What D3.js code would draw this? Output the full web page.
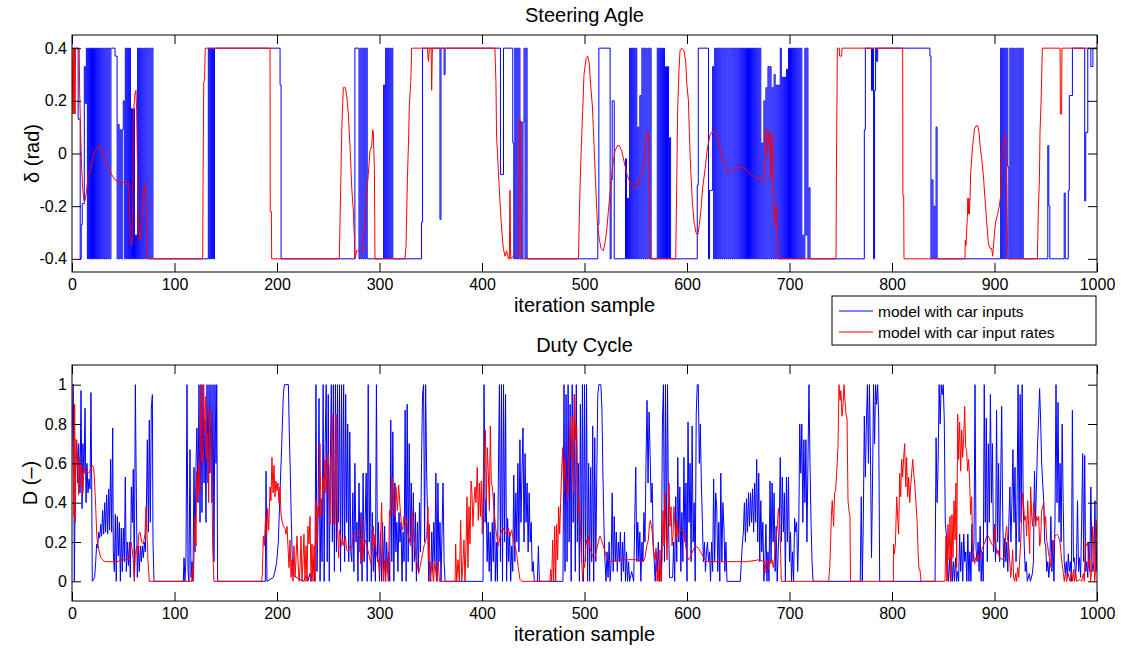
<!DOCTYPE html>
<html>
<head>
<meta charset="utf-8">
<script src="https://cdn.jsdelivr.net/npm/d3@7"></script>
<style>
  body { margin: 0; background: #fff; }
  text { font-family: "Liberation Sans", Arial, Helvetica, sans-serif; fill: #000; }
</style>
</head>
<body>
<script>
const xTicks = [0, 100, 200, 300, 400, 500, 600, 700, 800, 900, 1000];
const steerTicks = [-0.4, -0.2, 0, 0.2, 0.4];
const dutyTicks = [0, 0.2, 0.4, 0.6, 0.8, 1];
const legendLabels = ["model with car inputs", "model with car input rates"];

// all series: [sample, value, sample, value, ...]
// steering, car inputs (held between samples)
const steerInputs = [0,.4,6,.13,8,-.4,9,-.27,10,-.19,12,.33,13,.19,
14,.4,15,-.4,16,.4,17,-.4,18,.4,19,-.4,20,.4,21,-.4,22,.4,23,-.4,24,.4,25,-.4,26,.4,27,-.4,28,.4,29,-.4,30,.4,31,-.4,32,.4,33,-.4,34,.4,35,-.4,36,.4,37,-.4,38,.4,
42,.37,44,-.4,45,.11,46,-.4,47,.09,48,-.4,49,.09,50,.2,51,-.4,52,.4,53,-.4,54,.4,55,-.4,56,.4,57,-.4,58,.17,59,-.4,60,.17,61,-.4,62,-.31,63,-.4,
64,.4,65,-.4,66,.4,67,-.4,68,.4,69,-.4,70,.4,71,-.4,72,.4,73,-.4,74,.4,75,-.4,76,.4,77,-.4,78,.4,79,-.4,
133,.4,134,-.4,135,.4,136,-.4,137,.4,138,-.4,139,.4,203,.26,204,-.4,
276,.4,280,-.4,281,.4,282,-.4,283,.4,284,-.4,285,.4,286,-.4,287,.4,288,-.4,
304,.26,305,-.4,306,.4,307,-.4,308,.4,309,-.4,310,.4,311,-.4,312,.4,313,-.4,
341,-.26,342,.4,359,-.25,360,.4,363,.3,364,.4,418,-.08,421,.4,
430,.04,431,-.4,432,.4,433,-.4,434,.4,435,-.4,436,.4,437,-.4,438,.12,439,-.4,440,.12,441,.4,442,-.4,443,.4,444,-.4,
513,-.27,514,.4,525,-.4,526,-.1,527,.2,529,-.4,540,-.02,541,-.4,542,-.17,543,-.4,
544,.4,545,-.4,546,.4,547,-.4,548,.4,549,-.4,550,.4,551,-.4,552,.1,553,-.4,554,.22,555,-.4,556,.4,557,-.4,558,.4,559,-.4,560,.4,561,-.4,562,.4,563,-.4,564,.4,565,-.4,
571,.4,572,-.4,573,.4,574,-.4,575,.4,576,-.4,577,.4,578,-.4,579,.33,580,-.4,581,.33,582,-.4,583,.06,584,-.4,
610,-.12,611,.4,621,-.4,622,-.14,625,.33,
626,-.4,627,.4,628,-.4,629,.4,630,-.4,631,.4,632,-.4,633,.4,634,-.4,635,.4,636,-.4,637,.4,638,-.4,639,.4,640,-.4,641,.4,642,-.4,643,.4,644,-.4,645,.4,646,-.4,647,.4,648,-.4,649,.4,650,-.4,
651,.4,652,-.4,653,.4,654,-.4,655,.4,656,-.4,657,.4,658,-.4,659,.4,660,-.4,661,.4,662,-.4,663,.4,664,-.4,665,.4,666,-.4,667,.4,668,-.4,669,.4,670,-.4,671,.4,672,-.4,
673,.04,674,-.4,675,.2,676,-.4,677,.25,678,-.4,679,.33,680,-.4,681,.33,682,-.4,683,.25,684,-.4,685,.3,686,-.4,687,.26,688,-.4,689,.26,690,-.4,691,.4,692,-.4,693,.29,694,-.4,695,.29,696,-.4,697,.32,698,-.4,
699,.4,700,-.4,701,.4,702,-.4,703,.4,704,-.4,705,.4,706,-.4,707,.4,708,-.4,709,.4,710,-.4,711,.4,712,-.4,713,-.31,714,-.4,715,.4,716,-.31,717,.4,718,-.4,719,-.13,720,-.4,
773,.09,774,.4,780,.24,781,.4,782,-.4,783,.24,784,.4,785,.35,786,.4,
837,.37,838,-.4,839,-.1,840,-.4,841,-.2,842,-.4,843,.1,844,-.4,
906,.4,907,-.4,908,.4,909,-.4,910,.4,911,-.4,912,.4,913,-.05,914,-.4,915,.4,916,-.4,917,.4,918,-.4,919,.4,920,-.4,921,.4,922,-.4,923,.4,924,-.4,925,.4,926,-.4,927,.4,928,-.4,
952,.03,953,-.2,954,-.4,968,-.15,969,-.4,972,-.14,973,.22,976,.4,988,-.18,989,.08,991,.4,994,.33,996,.4,1000,.4];

// steering, car input rates
const steerRates = [0,.4,1,.15,1.5,.4,2,.15,2.5,.4,3,.15,3.5,.4,7,.4,7.5,.23,8.5,.07,9.4,-.05,10.4,-.13,11.7,-.18,12.7,-.18,14.3,-.14,15.9,-.08,17.6,-.07,19.2,-.04,20.8,-.01,22.4,.01,24.7,.02,26.7,.03,28.9,.01,30.6,.01,32.2,-.03,35.5,-.05,38.7,-.08,42,-.1,46.8,-.11,51.7,-.11,53.4,-.12,55,-.11,56,-.16,56.6,-.31,58.2,-.35,59.2,-.31,59.8,.15,61.5,.23,62.4,.24,63.1,.16,64.7,-.27,66.3,-.33,68,-.25,69.6,-.17,70.6,-.11,71.5,-.13,72.8,-.2,73.5,-.4,
127.5,-.4,127.8,-.14,128.5,.27,129.3,.28,130,.4,193.2,.4,193.4,-.22,194.5,-.22,194.8,-.4,
260.8,-.4,261.5,-.26,262.4,-.07,263.4,.12,264.7,.25,265.7,.25,266.7,.25,268,.22,269.6,.15,271.2,.03,272.9,-.13,274.5,-.22,275.4,-.31,276.1,-.4,277.7,-.37,283.6,-.37,284.2,-.31,285.9,-.26,287.5,-.15,289.1,-.08,290.7,.01,292.4,.03,293.3,.09,294,.08,295,-.06,295.6,-.4,
324.9,-.4,325.9,-.35,327.2,-.1,328.5,.07,329.1,.18,330.5,.27,331.4,.4,346.7,.4,347.7,.35,348.6,.4,350.3,.4,350.9,.24,351.6,.4,
412.6,.4,413.6,.27,414.2,.07,415.9,-.06,417.5,-.18,419.2,-.29,420.8,-.36,422.4,-.39,424.1,-.37,425.7,-.4,426.7,-.4,427.3,-.14,428,-.4,430.6,-.39,435.8,-.38,436.5,.13,437.2,.13,437.8,-.14,438.8,-.4,
494.1,-.4,495.1,-.21,496.4,-.03,498.2,.16,499.5,.3,501.5,.36,503.1,.37,504.7,.34,506,.26,507.7,.18,509.3,.03,510.9,-.12,512.5,-.26,514.2,-.32,516.1,-.36,518.4,-.37,520,-.34,521.7,-.29,523.3,-.22,524.9,-.15,526.5,-.08,528.1,-.03,529.8,.01,532.1,.03,534,.03,536.3,.01,538.6,-.03,541.5,-.08,544.4,-.11,547.6,-.13,550.2,-.13,552.5,-.11,555.1,-.08,557.4,-.06,559,.01,560.6,.08,562.3,.08,563.3,-.06,563.9,-.4,
589,-.4,590,-.11,590.9,.17,592.2,.32,593.2,.39,594.8,.4,597.1,.39,598.7,.35,599.7,.27,601.4,.2,602.3,.08,603.6,-.06,605.2,-.18,606.8,-.26,608.8,-.3,610.4,-.31,612.1,-.27,613.7,-.21,615.3,-.13,617.6,-.06,619.9,.02,622.4,.07,625,.085,627.3,.08,629.6,.06,632.2,.02,634.8,-.02,637.1,-.05,640.3,-.07,643.6,-.067,646.8,-.057,651.7,-.05,656.6,-.057,659.8,-.07,663.1,-.083,666.3,-.089,669.6,-.098,672.8,-.1,675.1,-.108,676.4,.09,677.7,.09,678.7,-.006,679.7,.076,681,.083,682,-.095,683,.07,684.3,-.095,685.3,-.28,686.6,-.2,687.9,-.21,688.9,-.4,
745.4,-.4,745.8,-.06,746.7,.4,748.6,.4,748.8,.37,750.9,.37,751.2,.4,810.4,.4,810.6,-.16,811.4,-.16,811.7,-.4,
871.2,-.4,871.5,-.33,872.2,-.35,873.5,-.24,874,-.17,874.5,-.23,875,-.17,875.5,-.23,876.1,-.17,876.7,-.08,878,-.006,879.4,.057,880.7,.095,882,.105,883.6,.105,884.9,.08,885.9,.03,887.5,-.02,889.1,-.08,890.7,-.17,892.4,-.26,894,-.34,895.6,-.36,897.2,-.36,898.2,-.39,898.9,-.36,899.8,-.31,901.1,-.26,902.8,-.235,904.7,-.2,906,-.16,907.3,-.006,908.6,.03,909.9,.072,910.9,.044,911.9,-.12,912.9,-.4,
941.8,-.4,942.8,-.21,943.8,-.1,944.4,.08,945.4,.19,946.7,.4,964,.4,964.3,.15,965.5,.15,965.8,.4,1000,.4];

// duty cycle, car inputs
const dutyInputs = [0,1,1.3,1,2.3,0,3.3,.55,4.6,.72,5.5,.5,6.5,.7,7.8,.45,8.8,.97,9.8,.37,10.7,.7,11.7,.55,12.7,.88,13.7,.4,14.6,.6,15.6,.45,16.6,.52,17.6,.47,18.5,.96,19.2,.5,19.8,0,22.1,.02,23.1,.1,24.1,.19,25,.17,26,.25,27,.22,28,.29,28.9,.23,29.9,.36,30.9,.24,31.9,.4,32.8,.25,33.8,.44,34.8,.24,35.8,.47,36.7,.26,37.7,.62,38.7,.25,39.7,.78,40.3,.15,41.3,.05,42.3,.34,43.2,0,44.2,.33,45.2,.13,46.2,.3,47.2,0,48.1,.27,49.1,.05,50.1,.27,51.1,.1,52,.53,53,.05,54,.2,55,.08,56,.2,56.9,.02,57.9,.48,58.9,.3,59.8,.57,60.8,.02,61.8,1,62.8,.43,63.7,.02,64.7,.18,65.7,.05,66.7,.18,67.6,.1,68.6,.18,69.6,.12,70.6,.2,71.5,.15,72.5,.35,73.5,.72,74.5,.25,75.4,.82,76.4,.3,77.4,.88,78.4,.95,79,.2,80,0,
108.6,0,109.3,.12,110.2,0,111.2,.12,112.2,1,113.2,.05,114.1,0,115.1,.67,116.1,.02,117.1,.1,118,0,119,.58,120,.15,121,.6,121.9,.78,122.9,.4,123.9,1,124.9,.3,125.9,1,126.8,.35,127.8,1,128.8,.5,129.8,.82,130.7,.3,131.7,1,132.7,.5,133.7,1,134.6,.55,135.6,1,136.6,.4,137.6,1,138.5,.1,139.5,1,140.5,.6,141.2,1,142.1,0,
187.3,0,188.6,0,189.3,.56,190.2,0,196.4,.02,198,.05,199.7,.1,201.3,.2,202.9,.45,204.5,.68,206.2,.95,207.2,1,211.1,1,212,.75,213,.55,214,.3,215,.1,216,.03,222.4,.01,225.7,0,229,.03,230,0,232,.04,233,0,236,.1,237,0,
238,1,239,.05,240,.3,241,.93,242,0,243,.42,244,.1,245,1,246,0,247,.7,248,1,249,.1,250,.95,251,0,252,.6,253,1,254,.2,255,1,256,.05,257,1,258,.15,259,1,260,.3,261,1,262,.05,263,1,264,.2,265,1,266,.1,267,.95,268,.3,269,.8,270,.1,271,.76,272,.15,
273,.1,274,.45,275,.05,276,.6,277,.2,278,.3,279,0,280,.5,281,.15,282,.35,283,0,284,.55,285,.1,286,.3,287,.55,288,0,289,1,290,.2,291,.6,292,0,293,.35,294,.05,295,.2,296,0,297,1,298,.1,299,.3,300,0,
301,.25,302,0,303,.3,304,.05,305,.28,306,0,307,.2,308,.05,309,.15,310,0,311,.82,312,.1,313,.76,314,0,315,.5,316,.15,317,.3,318,.05,319,.35,320,.2,321,.3,322,0,323,.25,324,.1,325,.87,326,0,327,.9,328,.1,329,.7,330,.2,331,.5,332,.05,333,.45,334,.1,335,.35,336,0,337,.3,338,.05,339,.4,340,.15,
341,.6,342,.95,343,1,344,.2,345,1,346,.55,347,.3,348,0,349,.1,350,0,351,.25,352,.05,353,.3,354,.1,355,.55,356,0,357,.5,358,.1,359,.3,360,0,361,.25,362,.5,363,.1,364,0,
401,0,402,1,403,.3,404,.42,405,.1,406,.3,407,.05,408,.25,409,0,410,.3,411,.1,412,.45,413,0,414,.2,415,0,416,.55,417,1,418,.1,419,1,420,0,421,1,422,.2,423,.95,424,0,425,.32,426,.1,427,.25,428,0,429,.18,430,.05,431,.54,432,.1,433,.45,434,.2,435,.6,436,.15,437,.72,438,.3,439,.55,440,.78,441,.2,442,.65,443,.3,444,.5,445,.15,446,.45,447,.2,448,.3,449,.05,450,.1,451,0,454,0,455,.18,456,0,
479,0,480,1,481,.05,482,.95,483,.1,484,1,485,.2,486,.9,487,0,488,1,489,.3,490,.95,491,.05,492,1,493,.2,494,.6,495,0,496,.9,497,.1,498,1,499,0,500,1,501,.1,502,1,503,0,504,.6,505,0,506,.58,507,.1,508,.79,509,0,510,.73,511,.1,512,.55,513,.95,514,1,516,1,517,.87,518,.54,519,.28,520,.1,
521,0,522,.15,523,.02,524,.2,525,0,526,.1,527,.45,528,.05,529,.33,530,.1,531,.25,532,.05,533,.2,534,.1,535,.25,536,0,537,.2,538,.05,539,.25,540,0,541,.15,542,0,543,.1,544,0,546,.05,548,0,549,.3,550,.58,551,.1,552,.3,553,.1,554,.25,555,0,556,.2,557,.1,558,.35,559,.2,560,.6,
561,.92,562,.5,563,.86,564,.65,565,.4,566,.5,567,.2,568,.1,569,0,570,.15,571,.05,572,.2,573,0,574,.1,575,0,576,.8,577,1,578,.1,579,1,580,.2,581,1,582,.3,583,.02,586,.02,587,.2,588,0,589,.43,590,.1,591,.63,592,.2,593,.48,594,.05,595,.35,596,.1,597,.63,598,.2,599,.5,600,0,
601,.81,602,.3,603,.6,604,.1,605,.79,606,.2,607,.4,608,0,609,.85,610,1,611,1,612,.6,613,.8,614,.5,615,.3,616,.1,617,.2,618,.05,619,.15,620,.2,621,.1,622,.15,623,0,624,.2,625,.05,626,.52,627,.1,628,.45,629,.38,630,.05,631,.3,632,0,633,.55,634,.1,635,.4,636,.28,637,.05,638,.2,639,0,
652,0,653,.1,654,.19,655,.25,656,.4,657,.2,658,.42,659,.25,660,.45,661,.28,662,.45,663,.3,664,.47,665,.25,666,.5,667,.3,668,.62,669,.2,670,.55,671,.1,672,.41,673,.15,674,.3,675,0,676,.1,677,.29,678,0,679,.15,680,0,
681,.51,682,.1,683,.5,684,.2,685,.45,686,.05,687,.28,688,0,689,.15,690,.3,691,.63,692,.2,693,.53,694,.25,695,.45,696,0,697,.53,698,.2,699,.53,700,.1,701,.25,702,0,703,.15,704,0,705,.32,706,.25,707,.3,708,.05,709,.25,710,.8,711,.55,712,.8,713,.3,714,.72,715,.4,716,.72,717,.2,718,.6,719,1,720,.6,721,.3,722,.1,723,0,
769,0,770,.43,771,0,772,.3,773,.84,774,.53,775,.8,776,1,777,.6,778,1,779,.64,780,.12,781,.5,782,1,783,.7,784,1,785,.9,786,1,787,.83,788,0,
842,0,843,.73,844,.4,845,.6,846,1,847,.8,848,1,849,.95,850,1,851,.82,852,.29,853,.24,854,.05,855,0,856,.12,857,0,858,.15,859,0,860,.1,861,0,862,.12,863,0,864,.05,865,0,866,.24,867,.05,868,.2,869,0,870,.24,871,.1,872,.15,873,0,874,.24,875,0,876,.15,877,0,878,.29,879,.1,880,.2,
881,1,882,.16,883,.1,884,.2,885,.05,886,.28,887,0,888,.15,889,0,890,1,891,.3,892,.83,893,.1,894,.7,895,.3,896,.95,897,.4,898,.7,899,.15,900,.29,901,.1,902,.87,903,.2,904,.6,905,.1,906,.5,907,.89,908,.34,909,.07,910,.22,911,.1,912,.2,913,.05,914,.3,915,.48,916,.2,917,.4,918,.67,919,.3,920,.58,
921,.1,922,.4,923,1,924,.2,925,.95,926,.3,927,1,928,.41,929,.18,930,.05,931,.1,932,0,934,.04,935,0,937,.04,938,.1,939,.56,940,.3,941,.5,942,.7,943,.82,944,.98,945,.82,946,.6,947,.5,948,.41,949,.2,950,.18,951,.05,952,.1,953,.02,954,.1,955,.33,956,.05,957,.21,958,0,959,.3,960,1,
961,.4,962,.91,963,.3,964,.6,965,.2,966,.8,967,.4,968,.1,969,.04,970,.1,971,.02,972,.14,973,.05,974,.1,975,0,976,.87,977,.1,978,.12,979,.02,980,.1,981,.41,982,.05,983,.12,984,.02,985,.3,986,.65,987,.1,988,.64,989,.05,990,.1,991,.02,992,.2,993,.05,994,.48,995,.1,996,.05,997,.1,998,.41,999,.05,1000,.2];

// duty cycle, car input rates
const dutyRates = [0,1,1.95,.33,2.6,.9,3.3,.3,3.9,.72,4.6,.7,5.5,.61,6.5,.44,7.2,.63,8.1,.48,8.8,.6,9.8,.56,10.7,.45,11.7,.58,12.7,.55,14.3,.56,15.9,.55,17.6,.56,18.9,.58,19.8,.59,21.1,.58,22.1,.5,23.1,.38,24.1,.24,25,.19,26.3,.16,28,.12,29.9,.11,32.2,.1,37.1,.1,43.6,.1,50.1,.11,55,.11,55.9,.12,56.6,.18,57.6,.2,58.5,.17,59.8,.11,60.8,0,61.8,.14,63.1,.18,64.1,.12,65,.24,66.3,.25,68,.2,69.6,.19,71.2,.24,72.2,.38,73.2,.24,74.1,.11,75.4,0,
116.7,0,117.4,.07,118.4,0,120,.33,121,.18,121.6,.56,122.6,.41,123.6,.6,124.6,.45,125.5,1,126.5,.62,127.5,.6,128.5,1,129.4,.75,130.4,.94,131.4,.62,132.4,.75,133.3,.4,134.3,.88,135.3,.82,136.3,.72,137.2,.18,138.5,0,
185,0,185.7,.04,186.7,.23,187.6,.18,188.9,.33,189.9,.23,190.9,.37,191.9,.26,193.2,.48,194.1,.41,195.1,.63,196.1,.45,197.1,.59,198,.43,199,.51,200,.46,201,.5,201.9,.4,202.9,.48,203.9,.34,204.9,.31,206.2,.28,207.8,.27,208.8,.24,209.8,.28,210.7,.18,211.7,.07,212.7,.21,213.7,.02,214.6,.11,215.6,0,216.6,.18,217.6,.02,218.5,.11,219.5,.23,220.5,.11,221.5,0,222.4,.06,223.4,.23,224.4,0,225.4,.11,226.3,.24,227.3,0,228.3,.18,229.3,0,230.2,.28,231.2,.19,232.2,.33,233.2,0,234.1,.19,235.1,0,236.1,.18,237.1,0,238,.41,239,.18,240,.38,240.9,.33,241.9,.7,242.9,.33,243.9,.38,244.9,.53,245.9,.46,246.8,.62,247.8,.45,248.8,.53,249.8,.65,250.7,.58,
251.7,.29,252.7,.58,253.7,.85,254.3,.75,255.3,.29,256.6,.29,257.6,.85,258.2,.62,259.2,.25,260.2,.12,260.8,.26,261.8,.23,263.1,.18,264.1,.21,265.4,.18,266.7,.23,268,.16,269.6,.15,271.2,.18,272.9,.17,274.5,.23,276.1,.25,277.7,.25,279.4,.24,281,.22,281.6,.09,282.6,.33,283.6,.11,284.9,.19,286.2,.21,287.5,.18,289.1,.15,290.7,.11,291.7,.09,292.7,.16,294,.28,294.6,.18,295.6,.24,296.6,.16,297.9,.11,298.9,.11,299.9,.04,300.5,.12,
302.1,.4,303.1,.11,303.7,0,304.7,.11,305.7,0,307,.12,308.6,0,309.7,.36,310.9,.33,312.2,.53,313.5,.41,314.8,.33,316.1,.48,317.4,.36,318.7,.49,320,.38,321.3,.29,322.6,.26,323.9,.33,325.2,.29,326.5,.31,327.8,.24,329.1,.21,330.4,.18,331.7,.36,333,.28,334.3,.18,335.6,.12,336.9,.09,338.2,.04,339.5,.07,340.8,.11,342.1,.14,343.4,.18,344.7,.2,346,.23,347.3,.38,348,.11,348.6,.29,349.3,0,351.2,.1,352.5,0,354.1,.1,355.8,0,357.4,.1,358.4,0,
373.7,0,374.3,.19,375.3,0,376.6,.11,377.9,0,379.2,.31,380.2,0,381.2,.07,382.4,.21,383.4,0,384.4,.18,385.4,.43,386.3,.07,387.3,.38,388.3,.19,389.3,.51,390.2,.45,391.2,.28,392.2,.41,393.2,.48,394.1,.4,395.4,.58,396.4,.31,397.4,.5,398.4,.33,399.3,.51,400.3,.24,401.3,.53,402.3,.62,403.3,.77,404.2,.41,405.2,.68,406.2,.55,407.2,.36,408.1,.79,409.1,.5,410.1,.48,411.1,.41,412.1,.34,413.1,.28,414.3,.23,416,.18,417.6,.23,419.2,.26,420.8,.27,422.4,.25,424,.24,425.7,.27,427.3,.23,428.9,.26,430.6,.21,432.2,.18,433.8,.14,435.4,.07,437,.01,438.7,0,
466.3,0,467,.06,468,0,468.9,.21,469.9,0,470.9,.28,471.9,0,472.8,.29,473.8,.11,474.8,.38,475.8,.24,476.7,.4,477.7,.56,478.7,.68,479.7,.45,480.7,.62,481.6,.55,482.6,.51,483.6,.41,484.6,.56,485.5,.72,486.5,.84,487.5,.62,488.5,.83,489.4,.45,490.4,.95,491.4,.72,492.4,.79,493.3,.5,494.3,.34,495.3,.4,496.3,.23,497.2,.11,498.2,0,499.2,.09,500.2,.07,501.2,.18,502.1,.21,503.1,.18,504.1,.23,505.4,.17,507,.14,508.6,.12,510.2,.12,511.9,.16,513.5,.2,515.1,.23,516.7,.21,518.4,.18,520,.15,521.6,.12,523.3,.11,524.9,.1,534.6,.11,541.1,.11,544.4,.11,550.9,.11,557.4,.1,559,.12,560.7,.18,562.3,.21,563.3,.29,564.3,.31,565.3,.28,566.3,.24,567.2,.16,568.9,.11,569.8,.17,570.8,0,571.8,.06,572.7,0,573.7,.16,574.7,0,575.7,.11,576.6,.36,577.6,.18,578.6,.45,579.6,.24,580.5,.11,581.5,.33,582.5,.5,583.4,.28,584.4,.38,585.4,.18,586.4,.24,587.3,.38,588.3,.28,589.3,.21,590.3,.31,591.3,.23,592.2,.26,594.8,.26,596.4,.26,598,.21,599.7,.14,601.3,.11,602.9,.12,606.2,.16,607.8,.18,611,.17,614.3,.14,617.6,.11,619.2,.1,638.7,.1,658.2,.1,671.2,.11,674.5,.1,676.1,.04,677.1,.11,678.4,.1,679.4,.06,680.4,.11,681.7,.09,683,.11,684.2,.07,685.2,.11,686.8,.21,688.1,.28,689.1,.37,690,.33,691,.21,692,0,
738.2,0,739.2,.07,739.8,.14,740.8,.33,741.7,.41,743,.28,744,.45,745,.46,746.3,.58,747.3,.68,748.3,1,749.3,.92,750.2,.97,751.2,.84,752.2,.89,753.2,1,754.1,.92,755.1,.85,756.1,.83,757.1,.41,758,.36,759,.33,759.5,0,
801.3,0,801.5,.19,802.3,.14,803.3,.19,804.6,.43,805.5,.33,806.5,.24,807.5,.55,808.5,.43,809.4,.62,810.4,.53,811.4,.63,812.4,.7,813.4,.48,814.3,.63,815.3,.43,816.3,.53,817.3,.4,818.2,.48,819.2,.55,820.2,.62,821.2,.55,822.1,.5,823.4,.4,824.4,.31,825.4,.16,826.3,.06,827.3,.06,828.3,0,829,0,
851.7,0,852.7,.23,853.6,0,854.6,.29,855.6,.11,856.6,.33,857.6,0,858.5,.34,859.5,.12,860.5,.41,861.5,.21,862.4,.5,863.1,.07,864.1,.85,865,.62,866,.81,867,.56,868,.77,868.9,.63,869.9,.72,870.9,.89,871.9,.68,872.8,.67,873.8,.56,874.8,.62,875.8,.5,876.7,.34,877.7,.43,878.7,.18,879.7,.14,880.7,.09,881.6,.12,882.6,.11,883.6,.14,884.6,.11,885.9,.12,887.5,.16,889.1,.18,890.7,.2,892.4,.23,894,.23,895.6,.21,897.2,.19,898.9,.18,900.5,.28,901.5,.18,902.4,.14,903.4,.16,904.4,.13,905.4,.12,907,.11,908.6,.12,909.9,.13,910.9,.24,911.9,.28,912.8,.21,913.8,.19,914.8,.11,915.8,.02,916.7,.07,917.7,.16,918.7,.02,919.7,0,920.7,.04,921.6,0,922.6,.07,923.6,.02,924.6,.11,925.5,.19,926.5,.34,927.5,.45,928.5,.38,929.4,.31,930.4,.33,931.4,.23,932.4,.41,933.3,.28,934.3,.14,935.3,.48,936.3,.33,937.2,.28,938.2,.4,939.2,.34,940.2,.28,941.1,.33,942.1,.31,943.1,.33,944.1,.18,945,.21,946,.36,947,.38,948,.4,948.9,.28,949.9,.33,950.9,.21,951.9,.18,952.8,.14,954.1,.11,955.1,.07,956.1,.14,957.4,.18,959,.23,960.7,.24,962.3,.23,963.9,.2,965.5,.11,967.2,.04,968.1,0,969.1,.04,970.4,0,972,.04,973.7,0,975.3,.05,976.3,0,977.2,.06,978.2,0,979.2,.04,980.2,0,983.4,.01,985,0,986.7,.04,987.6,0,988.6,.2,989.9,.18,990.9,.2,991.8,.07,992.8,.11,993.8,0,994.8,.06,995.8,.28,996.7,.18,997.7,0,998.4,.04,999,.31,1000,.2];

function toPoints(flat) {
    const pts = [];
    for (let i = 0; i < flat.length; i += 2) pts.push([flat[i], flat[i + 1]]);
    return pts;
}

const width = 1121, height = 651;
const left = 72, right = 1097;
const font = '"Liberation Sans", Arial, Helvetica, sans-serif';

const svg = d3.select("body").append("svg")
    .attr("width", width)
    .attr("height", height);

const x = d3.scaleLinear().domain([0, 1000]).range([left, right]);

function panel(p) {
    const y = d3.scaleLinear().domain(p.domain).range([p.bottom, p.top]);
    const g = svg.append("g");

    svg.append("clipPath").attr("id", "clip-" + p.id)
        .append("rect")
        .attr("x", left).attr("y", p.top)
        .attr("width", right - left).attr("height", p.bottom - p.top);

    const plot = g.append("g").attr("clip-path", `url(#clip-${p.id})`);

    const lineIn = d3.line().x(d => x(d[0])).y(d => y(d[1])).curve(p.inputCurve);
    const lineRate = d3.line().x(d => x(d[0])).y(d => y(d[1]));

    plot.append("path")
        .datum(toPoints(p.inputs))
        .attr("d", lineIn)
        .attr("fill", "none")
        .attr("stroke", "#0000ff")
        .attr("stroke-width", 1);

    plot.append("path")
        .datum(toPoints(p.rates))
        .attr("d", lineRate)
        .attr("fill", "none")
        .attr("stroke", "#ff0000")
        .attr("stroke-width", 1);

    // inward ticks on all four sides
    const styleAxis = sel => {
        sel.select(".domain").remove();
        sel.selectAll("text").attr("font-size", 16).attr("font-family", font).attr("fill", "#000");
    };

    g.append("g")
        .attr("transform", `translate(0,${p.bottom})`)
        .call(d3.axisBottom(x).tickValues(xTicks).tickSize(-9).tickPadding(6.5).tickFormat(d => String(d)))
        .call(styleAxis);

    g.append("g")
        .attr("transform", `translate(0,${p.top})`)
        .call(d3.axisTop(x).tickValues(xTicks).tickSize(-9).tickFormat(""))
        .call(styleAxis);

    g.append("g")
        .attr("transform", `translate(${left},0)`)
        .call(d3.axisLeft(y).tickValues(p.ticks).tickSize(-9).tickPadding(5).tickFormat(d => String(d)))
        .call(styleAxis);

    g.append("g")
        .attr("transform", `translate(${right},0)`)
        .call(d3.axisRight(y).tickValues(p.ticks).tickSize(-9).tickFormat(""))
        .call(styleAxis);

    g.append("rect")
        .attr("x", left).attr("y", p.top)
        .attr("width", right - left).attr("height", p.bottom - p.top)
        .attr("fill", "none")
        .attr("stroke", "#000")
        .attr("stroke-width", 1);

    g.append("text")
        .attr("x", (left + right) / 2)
        .attr("y", p.top - 13)
        .attr("text-anchor", "middle")
        .attr("font-size", 20)
        .text(p.title);

    g.append("text")
        .attr("x", (left + right) / 2)
        .attr("y", p.bottom + 39.5)
        .attr("text-anchor", "middle")
        .attr("font-size", 20)
        .text("iteration sample");

    g.append("text")
        .attr("transform", `translate(${p.ylabelX},${(p.top + p.bottom) / 2}) rotate(-90)`)
        .attr("text-anchor", "middle")
        .attr("font-size", 20)
        .text(p.ylabel);
}

panel({
    id: "steer", top: 35, bottom: 272, domain: [-0.45, 0.45], ticks: steerTicks,
    inputs: steerInputs, rates: steerRates, inputCurve: d3.curveStepAfter,
    title: "Steering Agle", ylabel: "δ (rad)", ylabelX: 39
});

panel({
    id: "duty", top: 365, bottom: 601, domain: [-0.1, 1.1], ticks: dutyTicks,
    inputs: dutyInputs, rates: dutyRates, inputCurve: d3.curveLinear,
    title: "Duty Cycle", ylabel: "D (–)", ylabelX: 37
});

// legend
const legend = svg.append("g").attr("transform", "translate(832,296)");
legend.append("rect")
    .attr("width", 264).attr("height", 49)
    .attr("fill", "#fff").attr("stroke", "#000").attr("stroke-width", 1);

const legendColors = ["#0000ff", "#ff0000"];
legendLabels.forEach((label, i) => {
    const yy = 15 + i * 21;
    legend.append("line")
        .attr("x1", 7).attr("x2", 41).attr("y1", yy).attr("y2", yy)
        .attr("stroke", legendColors[i]).attr("stroke-width", 1);
    legend.append("text")
        .attr("x", 46).attr("y", yy + 5.5)
        .attr("font-size", 15.5)
        .text(label);
});
</script>
</body>
</html>
